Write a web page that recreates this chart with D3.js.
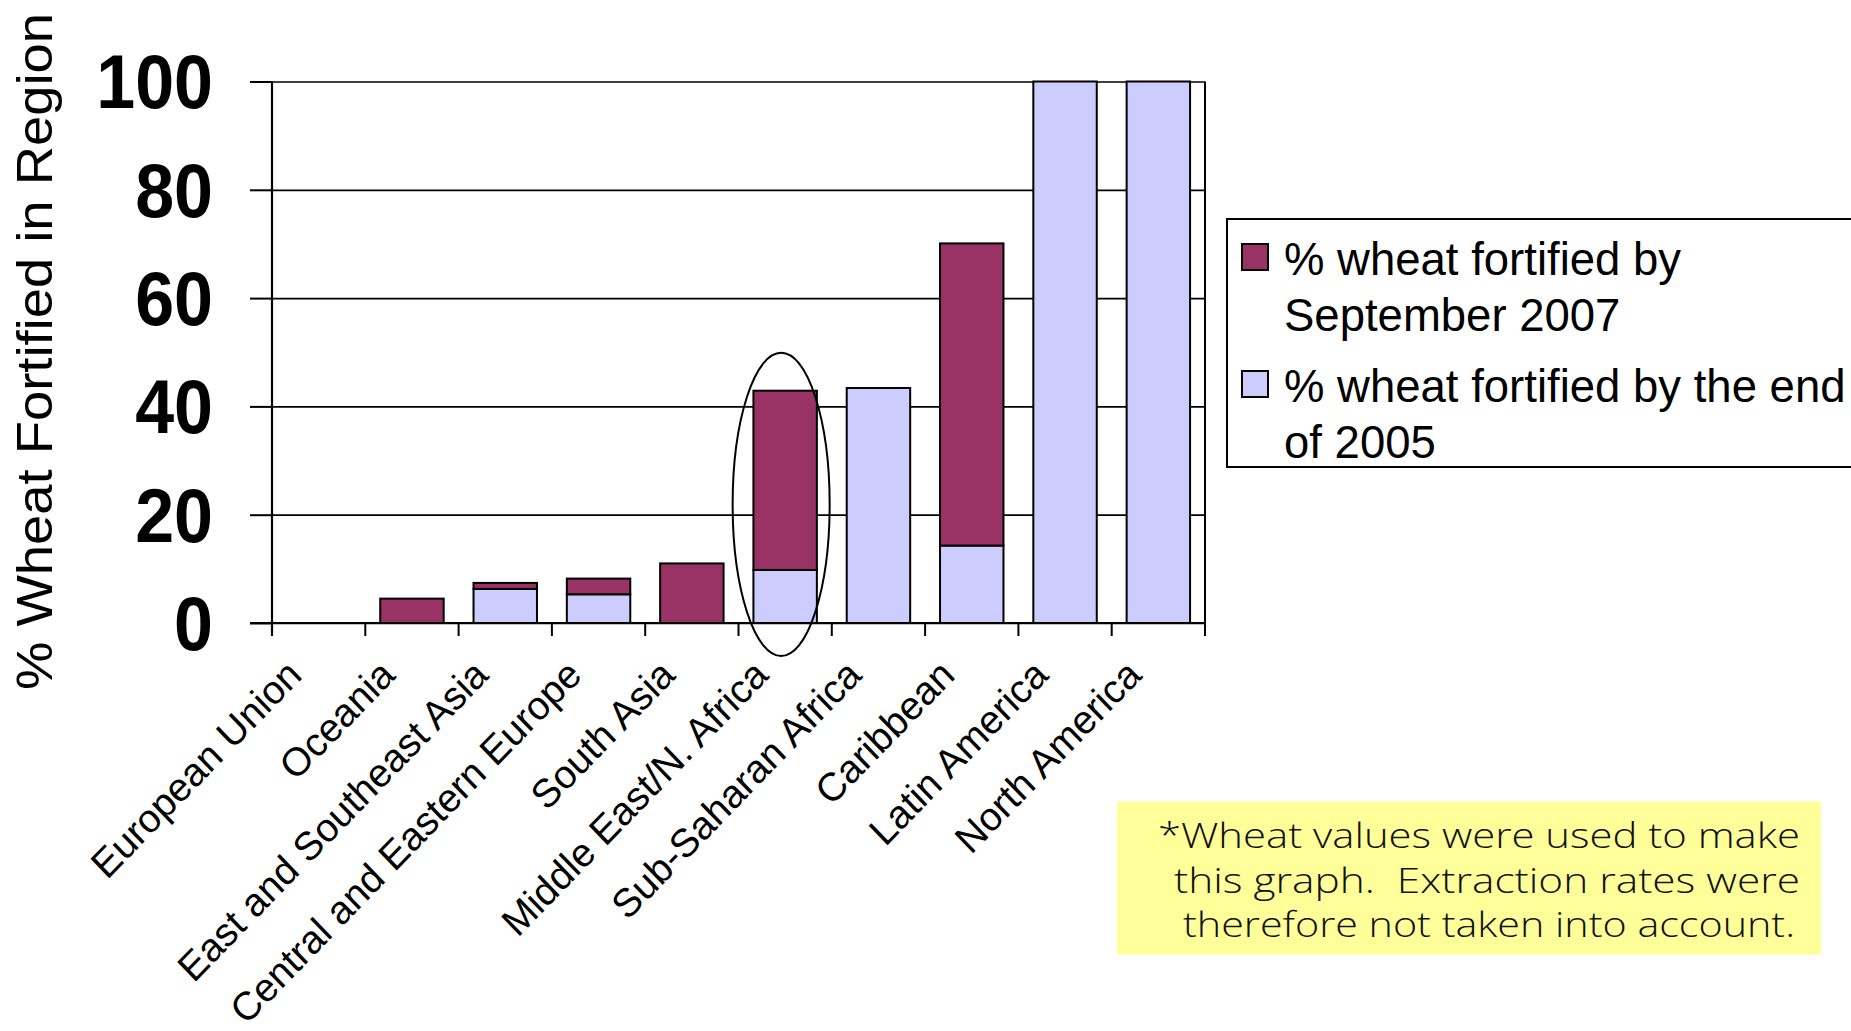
<!DOCTYPE html>
<html>
<head>
<meta charset="utf-8">
<script src="https://cdn.jsdelivr.net/npm/d3@7"></script>
<style>
  html, body { margin: 0; padding: 0; background: #ffffff; overflow: hidden; }
  svg { display: block; }
  text { font-family: "Liberation Sans", Arial, sans-serif; fill: #000; }
</style>
</head>
<body>
<svg id="chart" width="1851" height="1031"></svg>
<script>
// ---------------- data ----------------
const categories = [
  "European Union", "Oceania", "East and Southeast Asia", "Central and Eastern Europe",
  "South Asia", "Middle East/N. Africa", "Sub-Saharan Africa", "Caribbean",
  "Latin America", "North America"
];
// % wheat fortified by the end of 2005 (lower, lilac segment)
const fortified2005 = [0, 0, 6.3, 5.3, 0, 9.8, 43.4, 14.3, 100, 100];
// additional % fortified by September 2007 (upper, purple segment)
const addedBy2007 = [0, 4.5, 1.1, 2.9, 11.0, 33.1, 0, 55.8, 0, 0];

const seriesKeys = ["end2005", "sept2007"];
const seriesColors = { end2005: "#CCCCFF", sept2007: "#993366" };
const legendEntries = [
  { key: "sept2007", lines: ["% wheat fortified by", "September 2007"] },
  { key: "end2005", lines: ["% wheat fortified by the end", "of 2005"] }
];
const yTicks = [0, 20, 40, 60, 80, 100];
const yTitle = "% Wheat Fortified in Region";
const noteLines = [
  "*Wheat values were used to make",
  "this graph.  Extraction rates were",
  "therefore not taken into account."
];
const highlight = { category: "Middle East/N. Africa", centerValue: 21.9, halfSpan: 28 };

// ---------------- layout ----------------
const svg = d3.select("#chart");
const plot = { left: 272, right: 1205, top: 81.5, bottom: 623 };

const x = d3.scaleBand().domain(categories)
  .range([plot.left, plot.right]).paddingInner(0.32).paddingOuter(0.16);
const y = d3.scaleLinear().domain([0, 100]).range([plot.bottom, plot.top]);

const table = categories.map((c, i) => ({ category: c, end2005: fortified2005[i], sept2007: addedBy2007[i] }));
const stacked = d3.stack().keys(seriesKeys)(table);

// gridlines
const grid = svg.append("g")
  .attr("transform", `translate(${plot.left},0)`)
  .call(d3.axisLeft(y).tickValues(yTicks).tickSize(-(plot.right - plot.left)).tickFormat(""));
grid.select(".domain").remove();
grid.selectAll("line").attr("stroke", "#000").attr("stroke-width", 1.7);

// right border
svg.append("line")
  .attr("x1", plot.right).attr("x2", plot.right)
  .attr("y1", y(100)).attr("y2", y(0) + 13)
  .attr("stroke", "#000").attr("stroke-width", 2);

// bars
svg.append("g").selectAll("g").data(stacked).join("g")
  .attr("fill", d => seriesColors[d.key])
  .selectAll("rect").data(d => d.filter(s => s[1] - s[0] > 0)).join("rect")
  .attr("x", d => x(d.data.category))
  .attr("width", x.bandwidth())
  .attr("y", d => y(d[1]))
  .attr("height", d => y(d[0]) - y(d[1]))
  .attr("stroke", "#000").attr("stroke-width", 2);

// y axis
const yAxis = svg.append("g")
  .attr("transform", `translate(${plot.left},0)`)
  .call(d3.axisLeft(y).tickValues(yTicks).tickSize(22).tickPadding(37));
yAxis.select(".domain").attr("stroke", "#000").attr("stroke-width", 2.2)
  .attr("d", `M0,${y(100)}V${y(0) + 13}`);
yAxis.selectAll(".tick line").attr("stroke", "#000").attr("stroke-width", 2);
yAxis.selectAll(".tick text")
  .style("font-family", '"Liberation Sans", Arial, sans-serif')
  .style("font-size", "70px").style("font-weight", "bold")
  .attr("dy", "0.35em")
  .attr("transform", "scale(1,1.08)");

// x axis: baseline, boundary ticks and rotated labels
const xAxis = svg.append("g")
  .attr("transform", `translate(0,${plot.bottom})`)
  .call(d3.axisBottom(x).tickSize(0).tickPadding(0));
xAxis.select(".domain").attr("stroke", "#000").attr("stroke-width", 2.2)
  .attr("d", `M${plot.left - 22},0H${plot.right}`);
xAxis.selectAll(".tick text")
  .style("font-family", '"Liberation Sans", Arial, sans-serif')
  .style("font-size", "38.5px")
  .attr("text-anchor", "end")
  .attr("y", 0).attr("dy", 0)
  .attr("transform", "translate(-15,54) scale(1,1.035) rotate(-45)");
xAxis.append("g").selectAll("line")
  .data(d3.range(categories.length + 1))
  .join("line")
  .attr("x1", i => plot.left + i * x.step())
  .attr("x2", i => plot.left + i * x.step())
  .attr("y1", 0).attr("y2", 13)
  .attr("stroke", "#000").attr("stroke-width", 2);

// y title
svg.append("text")
  .attr("transform", `translate(51.5,${(13 + 690) / 2}) rotate(-90)`)
  .attr("text-anchor", "middle")
  .attr("textLength", 677).attr("lengthAdjust", "spacingAndGlyphs")
  .style("font-size", "50px")
  .text(yTitle);

// highlight ellipse
svg.append("ellipse")
  .attr("cx", x(highlight.category) + x.bandwidth() / 2 - 4)
  .attr("cy", y(highlight.centerValue))
  .attr("rx", x.step() * 0.52)
  .attr("ry", y(0) - y(highlight.halfSpan))
  .attr("fill", "none").attr("stroke", "#000").attr("stroke-width", 2);

// legend
const legend = svg.append("g");
legend.append("rect")
  .attr("x", 1227).attr("y", 219).attr("width", 700).attr("height", 248)
  .attr("fill", "#fff").attr("stroke", "#000").attr("stroke-width", 2);
const lg = legend.selectAll("g.entry").data(legendEntries).join("g")
  .attr("class", "entry")
  .attr("transform", (d, i) => `translate(1242,${244 + i * 127})`);
lg.append("rect").attr("width", 26).attr("height", 26)
  .attr("fill", d => seriesColors[d.key]).attr("stroke", "#000").attr("stroke-width", 2);
lg.each(function(d) {
  d3.select(this).selectAll("text").data(d.lines).join("text")
    .attr("x", 42).attr("y", (t, j) => 31 + j * 55.5)
    .style("font-size", "45.5px")
    .text(t => t);
});

// note box
const note = svg.append("g");
note.append("rect")
  .attr("x", 1117).attr("y", 801.5).attr("width", 704).attr("height", 153)
  .attr("fill", "#FFFF99");
const noteWidths = [642, 626, 612];
const noteRight = [1800, 1800, 1795];
note.selectAll("text").data(noteLines).join("text")
  .attr("x", (d, i) => noteRight[i])
  .attr("y", (d, i) => 848 + i * 44.5)
  .attr("text-anchor", "end")
  .attr("textLength", (d, i) => noteWidths[i])
  .attr("lengthAdjust", "spacingAndGlyphs")
  .style("font-family", '"Open Sans", "DejaVu Sans", sans-serif')
  .style("font-weight", 300)
  .style("font-size", "34px")
  .style("white-space", "pre")
  .style("fill", "#111")
  .text(d => d);
</script>
</body>
</html>
